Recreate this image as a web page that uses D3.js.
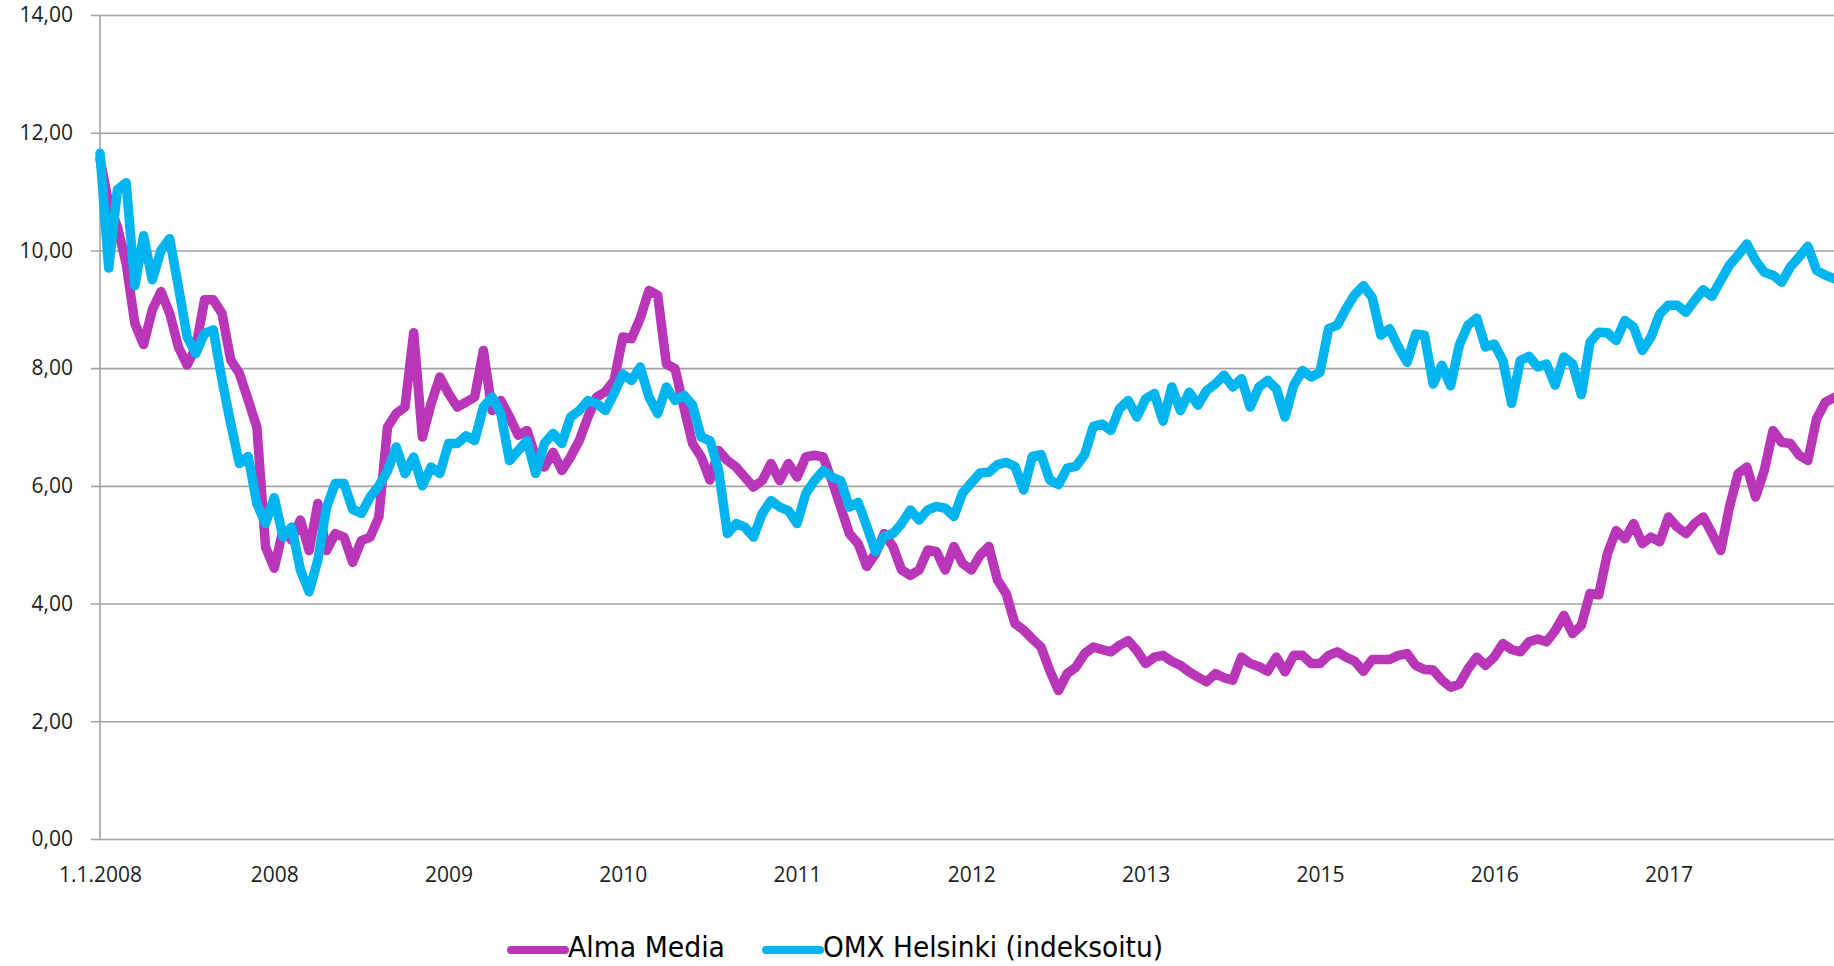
<!DOCTYPE html>
<html>
<head>
<meta charset="utf-8">
<script src="https://cdnjs.cloudflare.com/ajax/libs/d3/7.8.5/d3.min.js"></script>
<style>
  html, body { margin: 0; padding: 0; background: #fff; }
  svg { display: block; }
</style>
</head>
<body>
<div id="chart"></div>
<script>
// values, 200 equally spaced samples per series
var almaMedia = [
  11.55, 10.8, 10.4, 9.78, 8.76, 8.4, 8.99, 9.3, 8.93, 8.36,
  8.05, 8.36, 9.16, 9.16, 8.93, 8.14, 7.91, 7.46, 7.0, 4.96,
  4.6, 5.25, 5.08, 5.42, 4.9, 5.7, 4.9, 5.19, 5.13, 4.7,
  5.07, 5.13, 5.47, 7.0, 7.23, 7.34, 8.6, 6.83, 7.4, 7.85,
  7.57, 7.34, 7.42, 7.51, 8.3, 7.28, 7.45, 7.17, 6.86, 6.94,
  6.49, 6.32, 6.57, 6.26, 6.49, 6.77, 7.17, 7.51, 7.6, 7.79,
  8.53, 8.5, 8.85, 9.32, 9.24, 8.07, 7.99, 7.34, 6.72, 6.49,
  6.1, 6.6, 6.43, 6.32, 6.15, 5.98, 6.09, 6.38, 6.09, 6.38,
  6.15, 6.49, 6.52, 6.49, 6.09, 5.64, 5.19, 5.02, 4.63, 4.85,
  5.19, 4.97, 4.57, 4.48, 4.57, 4.91, 4.88, 4.57, 4.97, 4.68,
  4.57, 4.82, 4.97, 4.4, 4.17, 3.66, 3.55, 3.4, 3.26, 2.86,
  2.52, 2.81, 2.92, 3.15, 3.26, 3.22, 3.18, 3.29, 3.37, 3.2,
  2.98, 3.09, 3.12, 3.02, 2.95, 2.84, 2.75, 2.67, 2.81, 2.74,
  2.7, 3.09, 2.98, 2.93, 2.85, 3.09, 2.84, 3.12, 3.12, 2.98,
  2.98, 3.12, 3.18, 3.09, 3.02, 2.85, 3.05, 3.05, 3.05, 3.12,
  3.15, 2.95, 2.88, 2.87, 2.7, 2.58, 2.63, 2.89, 3.09, 2.95,
  3.09, 3.32, 3.22, 3.18, 3.35, 3.4, 3.35, 3.54, 3.8, 3.49,
  3.63, 4.17, 4.15, 4.85, 5.24, 5.1, 5.36, 5.02, 5.13, 5.05,
  5.47, 5.3, 5.19, 5.36, 5.47, 5.19, 4.9, 5.64, 6.21, 6.32,
  5.81, 6.26, 6.94, 6.74, 6.72, 6.52, 6.43, 7.14, 7.42, 7.5
];
var omxHelsinki = [
  11.65, 9.7, 11.03, 11.15, 9.4, 10.25, 9.5, 10.0, 10.2, 9.38,
  8.53, 8.25, 8.59, 8.65, 7.8, 7.06, 6.38, 6.5, 5.7, 5.36,
  5.8, 5.13, 5.3, 4.57, 4.2, 4.74, 5.64, 6.04, 6.04, 5.6,
  5.53, 5.81, 6.0, 6.26, 6.66, 6.21, 6.49, 6.0, 6.32, 6.21,
  6.72, 6.72, 6.85, 6.77, 7.34, 7.51, 7.23, 6.43, 6.6, 6.77,
  6.21, 6.72, 6.89, 6.72, 7.17, 7.28, 7.45, 7.4, 7.28, 7.57,
  7.9, 7.79, 8.02, 7.51, 7.23, 7.68, 7.45, 7.54, 7.37, 6.83,
  6.77, 6.26, 5.19, 5.36, 5.3, 5.13, 5.53, 5.75, 5.64, 5.58,
  5.36, 5.87, 6.09, 6.26, 6.15, 6.09, 5.64, 5.72, 5.31, 4.88,
  5.14, 5.19, 5.36, 5.59, 5.42, 5.59, 5.65, 5.62, 5.48, 5.88,
  6.05, 6.22, 6.23, 6.36, 6.4, 6.33, 5.93, 6.5, 6.53, 6.1,
  6.02, 6.3, 6.33, 6.53, 7.01, 7.05, 6.94, 7.31, 7.45, 7.17,
  7.48, 7.57, 7.1, 7.68, 7.28, 7.59, 7.37, 7.62, 7.73, 7.88,
  7.68, 7.82, 7.34, 7.68, 7.79, 7.65, 7.17, 7.71, 7.96, 7.85,
  7.93, 8.67, 8.73, 9.01, 9.25, 9.4, 9.2, 8.56, 8.67, 8.36,
  8.1, 8.58, 8.56, 7.73, 8.05, 7.7, 8.39, 8.73, 8.85, 8.36,
  8.41, 8.13, 7.4, 8.13, 8.2, 8.02, 8.07, 7.71, 8.19, 8.07,
  7.55, 8.44, 8.61, 8.6, 8.47, 8.81, 8.7, 8.3, 8.53, 8.92,
  9.07, 9.07, 8.95, 9.15, 9.33, 9.22, 9.49, 9.75, 9.92, 10.11,
  9.83, 9.63, 9.58, 9.46, 9.72, 9.89, 10.07, 9.66, 9.58, 9.52
];
var xLabels = ["1.1.2008", "2008", "2009", "2010", "2011", "2012", "2013", "2015", "2016", "2017"];
var labelEvery = 20; // samples between category labels
var yTicks = [0, 2, 4, 6, 8, 10, 12, 14];
var seriesNames = ["Alma Media", "OMX Helsinki (indeksoitu)"];
var seriesColors = ["#b936b9", "#00b5ef"];

var width = 1834;
var height = 966;
var plotLeft = 100;
var plotRight = 1834;
var plotTop = 15;
var plotBottom = 839;

var svg = d3.select("#chart").append("svg")
    .attr("width", width)
    .attr("height", height);

var x = d3.scaleLinear()
    .domain([0, almaMedia.length - 1])
    .range([plotLeft, plotRight]);

var y = d3.scaleLinear()
    .domain([0, 14])
    .range([plotBottom, plotTop]);

var fmt = function (d) { return d3.format(".2f")(d).replace(".", ","); };

// horizontal gridlines + y labels
var yAxis = svg.append("g")
    .attr("transform", "translate(91,0)")
    .call(d3.axisLeft(y)
        .tickValues(yTicks)
        .tickFormat(fmt)
        .tickSizeInner(-(plotRight - 91))
        .tickSizeOuter(0)
        .tickPadding(18));
yAxis.select(".domain").remove();
yAxis.selectAll(".tick line")
    .attr("stroke", "#a3a3a3")
    .attr("stroke-width", 1.6);
yAxis.selectAll(".tick text")
    .attr("fill", "#1e1e1e")
    .style("font-family", "'Open Sans', sans-serif")
    .style("font-size", "21px");

// vertical axis line
svg.append("line")
    .attr("x1", plotLeft).attr("x2", plotLeft)
    .attr("y1", y(14)).attr("y2", y(0))
    .attr("stroke", "#a3a3a3")
    .attr("stroke-width", 1.6);

// category labels
var xAxis = svg.append("g")
    .attr("transform", "translate(0," + plotBottom + ")")
    .call(d3.axisBottom(x)
        .tickValues(xLabels.map(function (d, i) { return i * labelEvery; }))
        .tickFormat(function (d, i) { return xLabels[i]; })
        .tickSize(0)
        .tickPadding(28));
xAxis.select(".domain").remove();
xAxis.selectAll(".tick text")
    .attr("fill", "#1e1e1e")
    .style("font-family", "'Open Sans', sans-serif")
    .style("font-size", "21px");

var line = d3.line()
    .x(function (d, i) { return x(i); })
    .y(function (d) { return y(d); });

var allSeries = [almaMedia, omxHelsinki];
svg.append("g").selectAll("path")
    .data(allSeries)
    .enter()
    .append("path")
    .attr("d", line)
    .attr("fill", "none")
    .attr("stroke", function (d, i) { return seriesColors[i]; })
    .attr("stroke-width", 9.5)
    .attr("stroke-linejoin", "round")
    .attr("stroke-linecap", "round");

// legend
var legendItems = [
    {name: seriesNames[0], color: seriesColors[0], x: 511, len: 157},
    {name: seriesNames[1], color: seriesColors[1], x: 766, len: 340}
];
var legend = svg.append("g").selectAll("g")
    .data(legendItems)
    .enter()
    .append("g")
    .attr("transform", function (d) { return "translate(" + d.x + ",950)"; });
legend.append("line")
    .attr("x1", 0).attr("x2", 54)
    .attr("stroke", function (d) { return d.color; })
    .attr("stroke-width", 8)
    .attr("stroke-linecap", "round");
legend.append("text")
    .attr("x", 57)
    .attr("y", 7)
    .attr("textLength", function (d) { return d.len; })
    .attr("lengthAdjust", "spacingAndGlyphs")
    .attr("fill", "#000")
    .style("font-family", "'Liberation Sans Narrow', 'DejaVu Sans Condensed', 'Liberation Sans', sans-serif")
    .style("font-size", "28px")
    .text(function (d) { return d.name; });
</script>
</body>
</html>
